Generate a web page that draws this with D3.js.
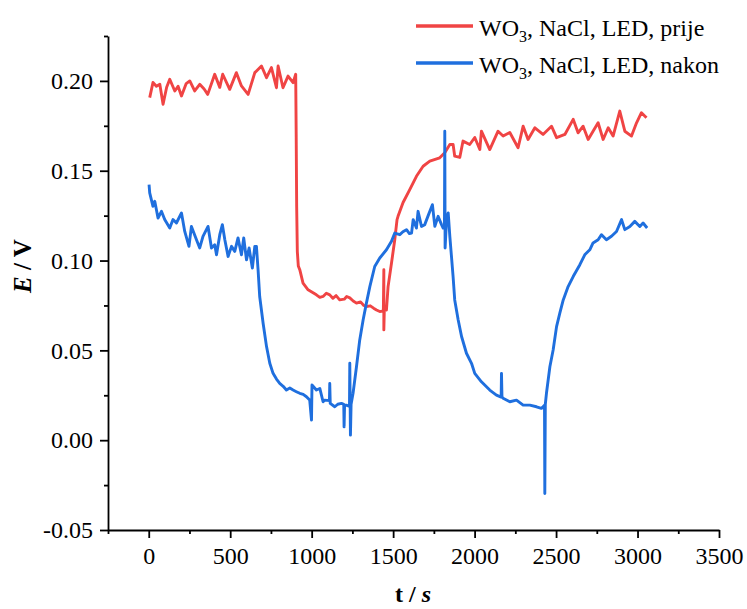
<!DOCTYPE html>
<html>
<head>
<meta charset="utf-8">
<script src="https://cdn.jsdelivr.net/npm/d3@7"></script>
<style>
  html, body { margin: 0; padding: 0; background: #fff; }
  svg { display: block; }
  text { font-family: "Liberation Serif", "Times New Roman", serif; fill: #000; }
</style>
</head>
<body>
<svg id="chart" width="747" height="609"></svg>
<script>
// ---- data ----
const redTime = [6, 26, 47, 68, 88, 110, 129, 160, 180, 201, 230, 252, 282, 313, 340, 362, 405, 436, 454, 497, 538, 569, 610, 651, 692, 723, 753, 784, 794, 824, 855, 886, 902, 905, 908, 912, 918, 927, 947, 978, 1029, 1050, 1070, 1090, 1111, 1130, 1150, 1172, 1200, 1215, 1234, 1255, 1275, 1300, 1320, 1336, 1360, 1380, 1398, 1418, 1440, 1443, 1443, 1446, 1459, 1469, 1490, 1510, 1524, 1530, 1561, 1602, 1643, 1684, 1725, 1786, 1817, 1848, 1868, 1878, 1909, 1929, 1970, 2001, 2032, 2042, 2093, 2144, 2175, 2216, 2267, 2298, 2328, 2370, 2420, 2472, 2503, 2554, 2605, 2635, 2666, 2697, 2727, 2758, 2789, 2820, 2850, 2891, 2922, 2963, 2994, 3024, 3055];
const redE = [0.1907, 0.1991, 0.1970, 0.1981, 0.1870, 0.1965, 0.2009, 0.1944, 0.1970, 0.1916, 0.1985, 0.2000, 0.1944, 0.1981, 0.1955, 0.1925, 0.2037, 0.1964, 0.2037, 0.1953, 0.2046, 0.1972, 0.1925, 0.2046, 0.2083, 0.2018, 0.2074, 0.1962, 0.2083, 0.1962, 0.2027, 0.1990, 0.2037, 0.170, 0.130, 0.105, 0.097, 0.0949, 0.0874, 0.0837, 0.0809, 0.0795, 0.0800, 0.0818, 0.0809, 0.0790, 0.0805, 0.0781, 0.0785, 0.0800, 0.0792, 0.0775, 0.0763, 0.0770, 0.0750, 0.0744, 0.0748, 0.0735, 0.0725, 0.0716, 0.0720, 0.0949, 0.0614, 0.0730, 0.0725, 0.0855, 0.0986, 0.1116, 0.1228, 0.1246, 0.1323, 0.1395, 0.1469, 0.1525, 0.1553, 0.1572, 0.1600, 0.1646, 0.1646, 0.1581, 0.1574, 0.1665, 0.1646, 0.1685, 0.1618, 0.1720, 0.1618, 0.1720, 0.1693, 0.1713, 0.1628, 0.1748, 0.1674, 0.1739, 0.1702, 0.1748, 0.1684, 0.1702, 0.1786, 0.1711, 0.1748, 0.1674, 0.1720, 0.1767, 0.1674, 0.1739, 0.1693, 0.1832, 0.1720, 0.1693, 0.1767, 0.1823, 0.1795];

const blueTime = [2, 6, 26, 37, 57, 78, 98, 129, 149, 170, 201, 221, 247, 262, 293, 313, 333, 364, 385, 405, 416, 436, 452, 467, 487, 508, 528, 548, 569, 583, 600, 616, 636, 651, 661, 671, 681, 702, 723, 743, 763, 784, 804, 825, 845, 866, 886, 906, 927, 948, 968, 988, 999, 1002, 1029, 1050, 1070, 1080, 1109, 1111, 1114, 1142, 1160, 1183, 1197, 1199, 1202, 1213, 1225, 1232, 1234, 1238, 1242, 1254, 1275, 1295, 1316, 1336, 1357, 1387, 1418, 1459, 1490, 1510, 1541, 1560, 1582, 1600, 1613, 1623, 1643, 1653, 1674, 1694, 1715, 1741, 1756, 1776, 1797, 1807, 1815, 1817, 1819, 1828, 1838, 1848, 1858, 1868, 1878, 1899, 1920, 1950, 1981, 2001, 2042, 2093, 2134, 2163, 2165, 2168, 2175, 2216, 2257, 2298, 2339, 2380, 2410, 2429, 2431, 2434, 2441, 2462, 2482, 2503, 2523, 2544, 2574, 2605, 2646, 2676, 2707, 2727, 2758, 2779, 2809, 2840, 2871, 2902, 2922, 2953, 2983, 3014, 3034, 3059];
const blueE = [0.1423, 0.1377, 0.1302, 0.1330, 0.1237, 0.1274, 0.1228, 0.1181, 0.1228, 0.1209, 0.1265, 0.1162, 0.1079, 0.1190, 0.1116, 0.1070, 0.1135, 0.1190, 0.1070, 0.1088, 0.1032, 0.1144, 0.1200, 0.1116, 0.1023, 0.1079, 0.1051, 0.1126, 0.1032, 0.1126, 0.1004, 0.1070, 0.0958, 0.1079, 0.1079, 0.0949, 0.0800, 0.0651, 0.0521, 0.0428, 0.0372, 0.0340, 0.0316, 0.0300, 0.0279, 0.0290, 0.0279, 0.0270, 0.0261, 0.0255, 0.0242, 0.0223, 0.0112, 0.0307, 0.0279, 0.0288, 0.0214, 0.0223, 0.0220, 0.0316, 0.0205, 0.0186, 0.0200, 0.0205, 0.0200, 0.0074, 0.0195, 0.0195, 0.0190, 0.0190, 0.0428, 0.0028, 0.0200, 0.0261, 0.0409, 0.0558, 0.0670, 0.0763, 0.0855, 0.0967, 0.1014, 0.1060, 0.1107, 0.1153, 0.1144, 0.1160, 0.1172, 0.1150, 0.1153, 0.1228, 0.1181, 0.1274, 0.1190, 0.1200, 0.1250, 0.1311, 0.1190, 0.1246, 0.1200, 0.1181, 0.1200, 0.1720, 0.1070, 0.1230, 0.1265, 0.1135, 0.1023, 0.0911, 0.0781, 0.0670, 0.0577, 0.0484, 0.0428, 0.0372, 0.0325, 0.0279, 0.0251, 0.0240, 0.0372, 0.0240, 0.0233, 0.0214, 0.0223, 0.0195, 0.0195, 0.0186, 0.0177, 0.0195, -0.0297, 0.0200, 0.0261, 0.0409, 0.0502, 0.0632, 0.0707, 0.0781, 0.0855, 0.0911, 0.0977, 0.1032, 0.1060, 0.1098, 0.1116, 0.1144, 0.1116, 0.1135, 0.1162, 0.1228, 0.1172, 0.1190, 0.1218, 0.1190, 0.1209, 0.1181];

const seriesNames = ["prije", "nakon"];
const seriesColors = ["#f04444", "#1f6fde"];

const xTicks = [0, 500, 1000, 1500, 2000, 2500, 3000, 3500];
const xTickLabels = ["0", "500", "1000", "1500", "2000", "2500", "3000", "3500"];
const xMinorTicks = [-250, 250, 750, 1250, 1750, 2250, 2750, 3250];
const yTicks = [-0.05, 0.00, 0.05, 0.10, 0.15, 0.20];
const yTickLabels = ["-0.05", "0.00", "0.05", "0.10", "0.15", "0.20"];
const yMinorTicks = [-0.025, 0.025, 0.075, 0.125, 0.175, 0.225];

// ---- layout ----
const svg = d3.select("#chart");
const plotLeft = 108, plotRight = 719, plotTop = 36, plotBottom = 530;

const x = d3.scaleLinear().domain([-250, 3500]).range([plotLeft, plotRight]);
const y = d3.scaleLinear().domain([-0.05, 0.225]).range([plotBottom, plotTop]);

// data lines
const line = d3.line().x(d => x(d[0])).y(d => y(d[1]));
const redData = redTime.map((t, i) => [t, redE[i]]);
const blueData = blueTime.map((t, i) => [t, blueE[i]]);

svg.append("path").datum(redData).attr("d", line)
  .attr("fill", "none").attr("stroke", seriesColors[0])
  .attr("stroke-width", 2.9).attr("stroke-linejoin", "round");
svg.append("path").datum(blueData).attr("d", line)
  .attr("fill", "none").attr("stroke", seriesColors[1])
  .attr("stroke-width", 2.9).attr("stroke-linejoin", "round");

// axes
const fontSize = 24;
svg.append("g").attr("transform", `translate(0,${plotBottom})`)
  .call(d3.axisBottom(x).tickValues(xTicks).tickFormat((d, i) => xTickLabels[i])
    .tickSize(8).tickSizeOuter(0).tickPadding(9));
svg.append("g").attr("transform", `translate(0,${plotBottom})`)
  .call(d3.axisBottom(x).tickValues(xMinorTicks).tickFormat("").tickSize(4).tickSizeOuter(0))
  .select(".domain").remove();

svg.append("g").attr("transform", `translate(${plotLeft},0)`)
  .call(d3.axisLeft(y).tickValues(yTicks).tickFormat((d, i) => yTickLabels[i])
    .tickSize(8).tickSizeOuter(0).tickPadding(7));
svg.append("g").attr("transform", `translate(${plotLeft},0)`)
  .call(d3.axisLeft(y).tickValues(yMinorTicks).tickFormat("").tickSize(4).tickSizeOuter(0))
  .select(".domain").remove();

svg.selectAll(".domain").attr("stroke", "#000").attr("stroke-width", 1.8);
svg.selectAll(".tick line").attr("stroke", "#000").attr("stroke-width", 1.8);
svg.selectAll(".tick text")
  .attr("font-family", "'Liberation Serif', 'Times New Roman', serif")
  .attr("font-size", fontSize).attr("fill", "#000");

// axis titles
const yTitle = svg.append("text")
  .attr("transform", "translate(31,266) rotate(-90)")
  .attr("text-anchor", "middle")
  .attr("font-size", 25).attr("font-weight", "bold");
yTitle.append("tspan").attr("font-style", "italic").text("E");
yTitle.append("tspan").text(" / V");

const xTitle = svg.append("text")
  .attr("x", 413).attr("y", 602)
  .attr("text-anchor", "middle")
  .attr("font-size", 24).attr("font-weight", "bold");
xTitle.append("tspan").text("t / ");
xTitle.append("tspan").attr("font-style", "italic").text("s");

// legend
const legendY = [26, 63];
seriesNames.forEach((name, i) => {
  svg.append("line")
    .attr("x1", 416).attr("x2", 473)
    .attr("y1", legendY[i]).attr("y2", legendY[i])
    .attr("stroke", seriesColors[i]).attr("stroke-width", 3.5);
  const t = svg.append("text")
    .attr("x", 479).attr("y", legendY[i] + 10)
    .attr("font-size", 24);
  t.append("tspan").text("WO");
  t.append("tspan").attr("font-size", 16).attr("dy", 6).text("3");
  t.append("tspan").attr("dy", -6).text(", NaCl, LED, " + name);
});
</script>
</body>
</html>
